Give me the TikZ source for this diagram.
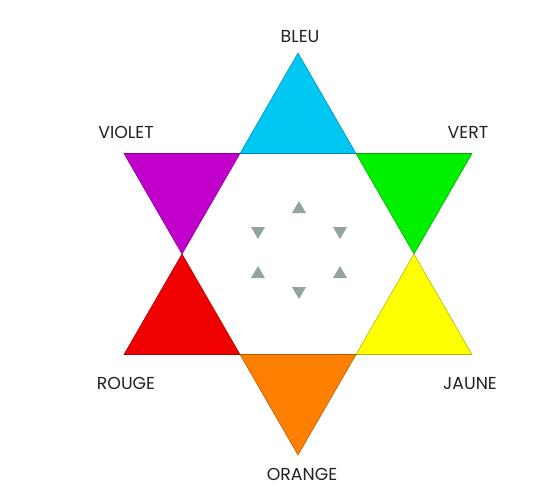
\documentclass[tikz,border=0pt]{standalone}
\usepackage{fontspec}
\setmainfont{Poppins}
\definecolor{cbleu}{HTML}{00C8F2}
\definecolor{cviolet}{HTML}{C200CC}
\definecolor{cvert}{HTML}{00F000}
\definecolor{cjaune}{HTML}{FFFF00}
\definecolor{crouge}{HTML}{F00000}
\definecolor{corange}{HTML}{FF8000}
\definecolor{cgris}{HTML}{95A39F}
\definecolor{ctexte}{HTML}{222222}
\begin{document}
\begin{tikzpicture}[x=0.75pt,y=-0.75pt,
  tri/.style={draw=#1!70!black, fill=#1, line width=0.4pt, line join=miter},
  lab/.style={text=ctexte, inner sep=0pt, font=\fontsize{13}{15}\selectfont}]
\useasboundingbox (0,0) rectangle (555,486);
\fill[white] (0,0) rectangle (555,486);
% hexagon vertices
\coordinate (TL) at (240,153.5);
\coordinate (TR) at (356,153.5);
\coordinate (L) at (182,254);
\coordinate (R) at (414,254);
\coordinate (BL) at (240,354.5);
\coordinate (BR) at (356,354.5);
% outer points
\coordinate (T) at (298,53);
\coordinate (B) at (298,455);
\coordinate (OTL) at (124,153.5);
\coordinate (OTR) at (472,153.5);
\coordinate (OBL) at (124,354.5);
\coordinate (OBR) at (472,354.5);
% colour triangles
\draw[tri=cbleu] (TL) -- (T) -- (TR) -- cycle;
\draw[tri=cviolet] (OTL) -- (TL) -- (L) -- cycle;
\draw[tri=cvert] (TR) -- (OTR) -- (R) -- cycle;
\draw[tri=crouge] (L) -- (BL) -- (OBL) -- cycle;
\draw[tri=cjaune] (R) -- (OBR) -- (BR) -- cycle;
\draw[tri=corange] (BL) -- (BR) -- (B) -- cycle;
% small grey triangles
\foreach \x/\y/\d in {299/207/1, 258/233/-1, 340/233/-1, 258/272/1, 340/272/1, 299/293/-1}
  \fill[cgris] (\x-7,\y+6*\d) -- (\x+7,\y+6*\d) -- (\x,\y-6*\d) -- cycle;
% labels
\node[lab] (bleu) at (300,37) {BLEU};
\node[lab] (violet) at (126,132) {VIOLET};
\node[lab] (vert) at (468,132) {VERT};
\node[lab] (rouge) at (126,383) {ROUGE};
\node[lab] (jaune) at (470,383) {JAUNE};
\node[lab] (orange) at (302,474) {ORANGE};
\end{tikzpicture}
\end{document}
